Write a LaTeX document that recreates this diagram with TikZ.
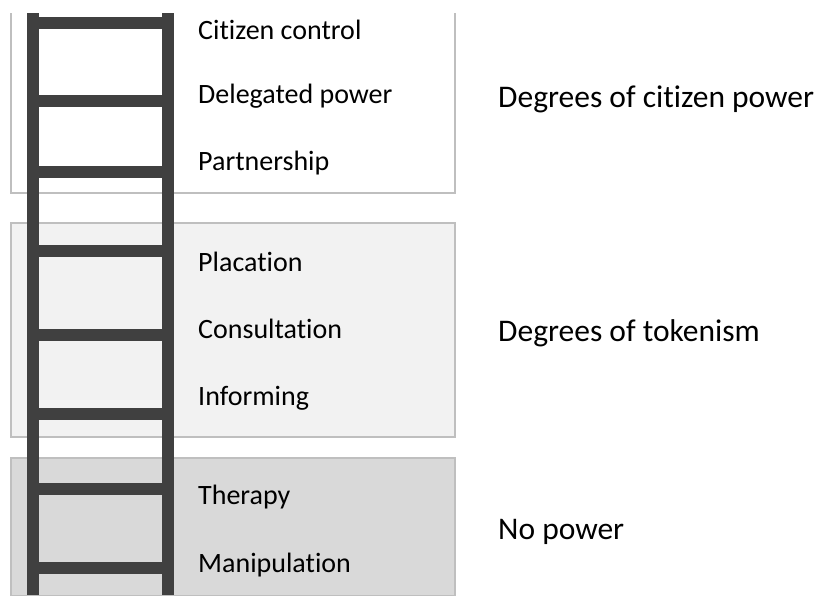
\documentclass[tikz,border=0pt]{standalone}
\usepackage{fontspec}
\setmainfont[Ligatures=NoCommon]{Carlito}
\definecolor{ladder}{HTML}{404040}
\definecolor{edge}{HTML}{BFBFBF}
\definecolor{fillA}{HTML}{FFFFFF}
\definecolor{fillB}{HTML}{F2F2F2}
\definecolor{fillC}{HTML}{D9D9D9}
\tikzset{
  group/.style={draw=edge, line width=1.2pt},
  rail/.style={fill=ladder, draw=none},
  rungbar/.style={fill=ladder, draw=none},
  rungtext/.style={anchor=base west, inner sep=0pt, font=\fontsize{28}{32}\selectfont, text=black},
  grouptext/.style={anchor=base west, inner sep=0pt, font=\fontsize{31.5}{36}\selectfont, text=black},
}
\begin{document}
\begin{tikzpicture}[x=1pt,y=-1pt]
\useasboundingbox (0,0) rectangle (818,595);
% groups
\draw[group, fill=fillA] (11,13) -- (11,193) -- (455,193) -- (455,13);
\draw[group, fill=fillB] (11,223) rectangle (455,437);
\draw[group, fill=fillC] (11,458) rectangle (455,596);
% rails
\fill[rail] (27,13) rectangle (39,595);
\fill[rail] (162,13) rectangle (174,595);
% rungs
\foreach \c in {23,101,172,251,335,414,489,568}
  \fill[rungbar] (39,\c-6) rectangle (162,\c+6);
% labels
\node[rungtext] (cc) at (198,39) {Citizen control};
\node[rungtext] (dp) at (198,103) {Delegated power};
\node[rungtext] (pa) at (198,170) {Partnership};
\node[rungtext] (pl) at (198,271) {Placation};
\node[rungtext] (co) at (198,338) {Consultation};
\node[rungtext] (in) at (198,405) {Informing};
\node[rungtext] (th) at (198,504) {Therapy};
\node[rungtext] (ma) at (198,572) {Manipulation};
\node[grouptext] (g1) at (498,107) {Degrees of citizen power};
\node[grouptext] (g2) at (498,341) {Degrees of tokenism};
\node[grouptext] (g3) at (498,539) {No power};
\end{tikzpicture}
\end{document}
